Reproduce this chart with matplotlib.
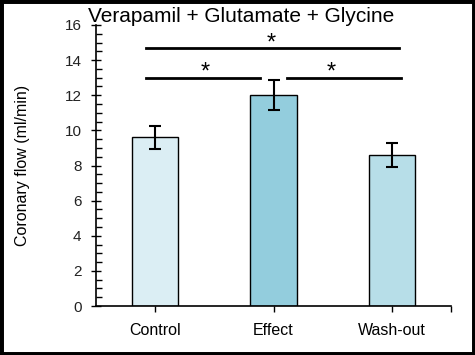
import matplotlib.pyplot as plt
from matplotlib.patches import Rectangle
from matplotlib.ticker import MultipleLocator

categories = ['Control', 'Effect', 'Wash-out']
flow = [9.6, 12.0, 8.6]
flow_err = [0.65, 0.85, 0.68]
bar_colors = ['#dbeef4', '#93cddd', '#b7dee8']
title = 'Verapamil + Glutamate + Glycine'

plt.rcParams['font.family'] = ['Liberation Sans', 'DejaVu Sans']

fig = plt.figure(figsize=(4.75, 3.55), dpi=100)
ax = fig.add_axes([96/475, 1 - 306/355, (451-96)/475, (306-25)/355])

x = range(len(categories))
ax.bar(x, flow, width=0.39, color=bar_colors, edgecolor='black', linewidth=1.0, zorder=2)
ax.errorbar(x, flow, yerr=flow_err, fmt='none', ecolor='black',
            elinewidth=1.5, capsize=4, capthick=1.5, zorder=3)

ax.set_xlim(-0.5, 2.5)
ax.set_ylim(0, 16)
ax.set_xticks(list(x))
ax.set_xticklabels(categories, fontsize=11.5)
ax.set_xticks([2.5], minor=True)
ax.yaxis.set_major_locator(MultipleLocator(2))
ax.yaxis.set_minor_locator(MultipleLocator(0.5))
ax.tick_params(axis='y', which='major', direction='inout', length=7, width=1,
               labelsize=11, pad=7, labelcolor='#222222')
ax.tick_params(axis='y', which='minor', direction='in', length=4, width=1)
ax.tick_params(axis='x', which='both', direction='out', length=4, width=1, pad=8)
for s in ['top', 'right']:
    ax.spines[s].set_visible(False)
for s in ['left', 'bottom']:
    ax.spines[s].set_linewidth(1.2)

ax.set_ylabel('Coronary flow (ml/min)', fontsize=11.5)
ax.yaxis.set_label_coords(-0.185, 0.5)

# significance brackets
ax.plot([-0.08, 2.06], [14.7, 14.7], color='black', lw=2, clip_on=False)
ax.text(0.98, 14.3, '*', ha='center', va='bottom', fontsize=17)
ax.plot([-0.08, 0.89], [13.0, 13.0], color='black', lw=2)
ax.plot([1.11, 2.08], [13.0, 13.0], color='black', lw=2)
ax.text(0.42, 12.65, '*', ha='center', va='bottom', fontsize=17)
ax.text(1.49, 12.65, '*', ha='center', va='bottom', fontsize=17)

fig.text(241/475, 1 - 17/355, title, ha='center', va='center', fontsize=15)

fig.patches.append(Rectangle((0, 0), 1, 1, transform=fig.transFigure,
                             fill=False, edgecolor='black', linewidth=5))

fig.savefig('out.png', dpi=100)
